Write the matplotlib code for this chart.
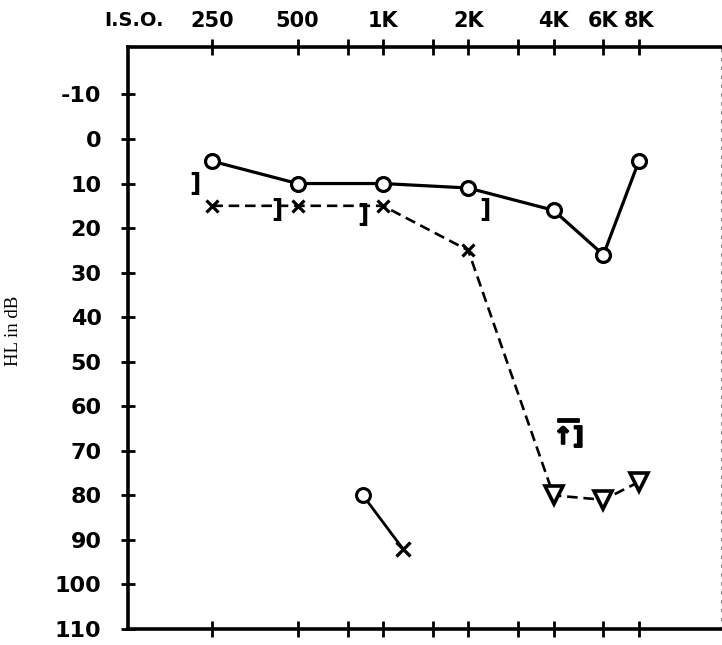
import numpy as np
import matplotlib
matplotlib.use("Agg")
import matplotlib.pyplot as plt
import matplotlib.patheffects as pe
from matplotlib.ticker import FixedLocator, FixedFormatter, NullFormatter

# Audiogram (frequency in Hz, hearing level in dB)
freqs = [250, 500, 1000, 2000, 4000, 6000, 8000]
freq_labels = ["250", "500", "1K", "2K", "4K", "6K", "8K"]
minor_freqs = [750, 1500, 3000]
db_ticks = list(range(-10, 111, 10))

# air conduction, circles (solid line)
circle_freqs = [250, 500, 1000, 2000, 4000, 6000, 8000]
circle_db = [5, 10, 10, 11, 16, 26, 5]

# air conduction, crosses, then no-response triangles (dashed line)
cross_freqs = [250, 500, 1000, 2000]
cross_db = [15, 15, 15, 25]
tri_freqs = [4000, 6000, 8000]
tri_db = [80, 81, 77]

# masked bone conduction brackets
bracket_freqs = [218, 423, 850, 2286]
bracket_db = [10, 16, 17, 16]

# separate circle / cross pair lower down
pair_freqs = [850, 1176]
pair_db = [80, 92]

# no-response bone symbol
arrow_freq, arrow_db = 4515, 65

W, H = 722, 645
fig = plt.figure(figsize=(W / 100, H / 100), dpi=100)
ax = fig.add_axes([128 / W, 1 - 629 / H, (721 - 128) / W, (629 - 47) / H])

ax.set_xscale("log", base=2)
ax.set_xlim(126, 15600)
ax.set_ylim(110, -20.65)

# frequency ticks on top (labelled) and bottom
ax.xaxis.set_major_locator(FixedLocator(freqs))
ax.xaxis.set_major_formatter(FixedFormatter(freq_labels))
ax.xaxis.set_minor_locator(FixedLocator(minor_freqs))
ax.xaxis.set_minor_formatter(NullFormatter())
ax.tick_params(axis="x", which="both", top=True, bottom=True,
               labeltop=True, labelbottom=False, direction="inout",
               length=11, width=2, pad=6, labelsize=15)
for lab in ax.get_xticklabels():
    lab.set_fontweight("bold")

ax.set_yticks(db_ticks)
ax.set_yticklabels([str(v) for v in db_ticks])
ax.tick_params(axis="y", direction="inout", length=10, width=2,
               pad=14, labelsize=16)
for lab in ax.get_yticklabels():
    lab.set_fontweight("bold")

for side in ["top", "left", "bottom"]:
    ax.spines[side].set_linewidth(2.6)
ax.spines["right"].set_linewidth(0.8)
ax.spines["right"].set_linestyle((0, (2, 6)))
ax.spines["right"].set_color("#888888")

ax.text(-0.04, 1.045, "I.S.O.", transform=ax.transAxes, ha="left",
        va="center", fontsize=14, fontweight="bold")

ax.set_ylabel("HL in dB", family="Liberation Serif", fontsize=13.5)
ax.yaxis.set_label_coords(-0.179, 0.512)

# solid circle line
ax.plot(circle_freqs, circle_db, color="black", lw=2.3, marker="o",
        ms=10, mfc="white", mec="black", mew=2.3, zorder=3)

# dashed cross line running on into the triangles
ax.plot(cross_freqs + tri_freqs, cross_db + tri_db, color="black", lw=1.9,
        linestyle=(0, (4, 2.2)), zorder=2)
ax.plot(cross_freqs, cross_db, linestyle="none", marker="x", ms=9,
        mec="black", mew=2.3, zorder=3)
ax.plot(tri_freqs, tri_db, linestyle="none", marker="v", ms=13,
        mfc="white", mec="black", mew=2.6, zorder=3)

for f, d in zip(bracket_freqs, bracket_db):
    ax.text(f, d, "]", ha="center", va="center", fontsize=18,
            fontweight="bold", zorder=4)

# lone circle to cross pair
ax.plot(pair_freqs, pair_db, color="black", lw=2, zorder=2)
ax.plot(pair_freqs[0], pair_db[0], marker="o", ms=10, mfc="white",
        mec="black", mew=2.2, zorder=3)
ax.plot(pair_freqs[1], pair_db[1], marker="x", ms=10, mec="black",
        mew=2.4, zorder=3)

# arrow + bracket with a bar across the top
ax.text(arrow_freq, arrow_db, "\u2014\n\u2191]", ha="center", va="center",
        multialignment="center", linespacing=0.62, fontsize=17,
        fontweight="bold", zorder=4,
        path_effects=[pe.withStroke(linewidth=1.3, foreground="black")])

fig.savefig("out.png", dpi=100)
